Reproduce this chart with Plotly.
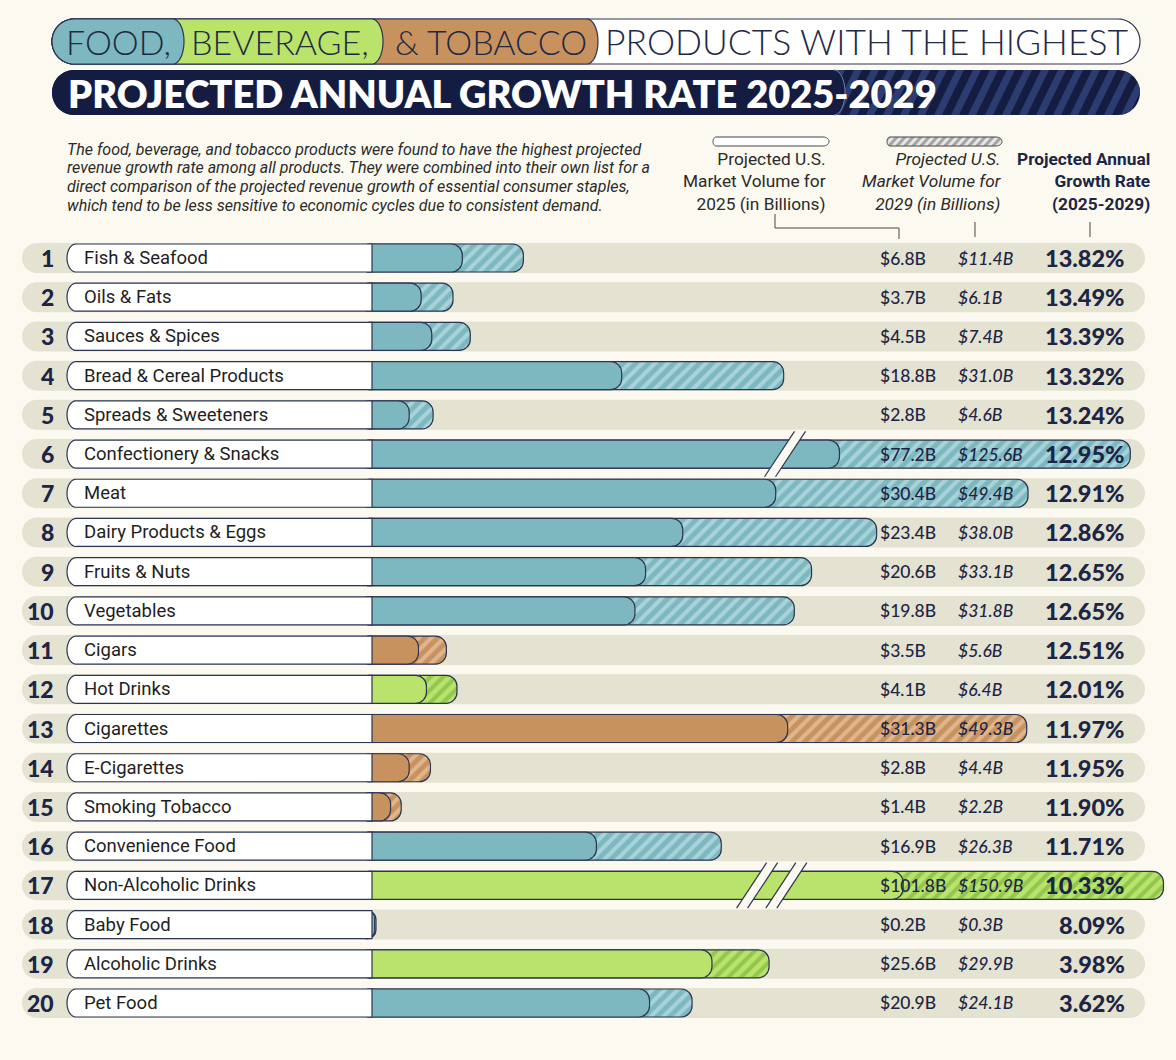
import math
import plotly.graph_objects as go

# ---------------- DATA ----------------
categories = ["Fish & Seafood", "Oils & Fats", "Sauces & Spices", "Bread & Cereal Products",
              "Spreads & Sweeteners", "Confectionery & Snacks", "Meat", "Dairy Products & Eggs",
              "Fruits & Nuts", "Vegetables", "Cigars", "Hot Drinks", "Cigarettes", "E-Cigarettes",
              "Smoking Tobacco", "Convenience Food", "Non-Alcoholic Drinks", "Baby Food",
              "Alcoholic Drinks", "Pet Food"]
groups = ["Food", "Food", "Food", "Food", "Food", "Food", "Food", "Food", "Food", "Food",
          "Tobacco", "Beverage", "Tobacco", "Tobacco", "Tobacco", "Food", "Beverage", "Food",
          "Beverage", "Food"]
volume_2025 = [6.8, 3.7, 4.5, 18.8, 2.8, 77.2, 30.4, 23.4, 20.6, 19.8,
               3.5, 4.1, 31.3, 2.8, 1.4, 16.9, 101.8, 0.2, 25.6, 20.9]
volume_2029 = [11.4, 6.1, 7.4, 31.0, 4.6, 125.6, 49.4, 38.0, 33.1, 31.8,
               5.6, 6.4, 49.3, 4.4, 2.2, 26.3, 150.9, 0.3, 29.9, 24.1]
growth_rate = [13.82, 13.49, 13.39, 13.32, 13.24, 12.95, 12.91, 12.86, 12.65, 12.65,
               12.51, 12.01, 11.97, 11.95, 11.90, 11.71, 10.33, 8.09, 3.98, 3.62]
ranks = list(range(1, len(categories) + 1))

# broken-axis rows: shown lengths (billions on the drawn scale) and break positions
broken_shown = {"Confectionery & Snacks": (35.2, 57.1), "Non-Alcoholic Drinks": (40.0, 59.6)}
break_marks = {"Confectionery & Snacks": [31.1], "Non-Alcoholic Drinks": [29.0, 31.2]}

# ---------------- STYLE ----------------
W, H = 1176, 1060
BG = "#fcfaf0"
TRACK = "#e4e2d0"
NAVY = "#141c42"
INK = "#1d2546"
EDGE = "#2d3552"
COL = {"Food": ("#7db8c0", "#a8d3d8"),
       "Beverage": ("#b9e36b", "#92c64e"),
       "Tobacco": ("#c8925f", "#e0b68e")}
FONT = "Lato, Roboto, sans-serif"

SCALE = 13.28      # px per billion
X0 = 372           # pixel of zero
ROW0 = 258         # pixel of row 1 centre
ROWD = 39.21       # px between rows
xr = [-X0 / SCALE, (W - X0) / SCALE]
yr = [1 + (H - ROW0) / ROWD, 1 - ROW0 / ROWD]
BAR_T = 28 / ROWD
OFFSET = 1.0       # bar start hidden under label pill


def px(x):
    return x / W


def py(y):
    return 1 - y / H


def row_px(r):
    return ROW0 + (r - 1) * ROWD


def stadium(x0, x1, y0, y1, rl, rr, n=24):
    cy = (y0 + y1) / 2
    ry = (y1 - y0) / 2
    pts = []
    for i in range(n + 1):
        t = -math.pi / 2 + math.pi * i / n
        pts.append((x1 - rr + rr * math.cos(t), cy + ry * math.sin(t)))
    for i in range(n + 1):
        t = math.pi / 2 + math.pi * i / n
        pts.append((x0 + rl + rl * math.cos(t), cy + ry * math.sin(t)))
    return pts


def to_path(pts, close=True):
    s = "M" + " L".join(f"{px(a):.5f},{py(b):.5f}" for a, b in pts)
    return s + (" Z" if close else "")


def clip(subject, clipper):
    a2 = 0
    for i in range(len(clipper)):
        x1, y1 = clipper[i]
        x2, y2 = clipper[(i + 1) % len(clipper)]
        a2 += x1 * y2 - x2 * y1
    sign = 1 if a2 > 0 else -1

    def inside(p, a, b):
        return sign * ((b[0] - a[0]) * (p[1] - a[1]) - (b[1] - a[1]) * (p[0] - a[0])) >= -1e-9

    def inter(p, q, a, b):
        x1, y1 = p; x2, y2 = q; x3, y3 = a; x4, y4 = b
        den = (x1 - x2) * (y3 - y4) - (y1 - y2) * (x3 - x4)
        if abs(den) < 1e-12:
            return q
        t = ((x1 - x3) * (y3 - y4) - (y1 - y3) * (x3 - x4)) / den
        return (x1 + t * (x2 - x1), y1 + t * (y2 - y1))

    out = subject
    for i in range(len(clipper)):
        a = clipper[i]
        b = clipper[(i + 1) % len(clipper)]
        if abs(a[0] - b[0]) < 1e-9 and abs(a[1] - b[1]) < 1e-9:
            continue
        inp = out
        out = []
        if not inp:
            break
        s = inp[-1]
        for e in inp:
            if inside(e, a, b):
                if not inside(s, a, b):
                    out.append(inter(s, e, a, b))
                out.append(e)
            elif inside(s, a, b):
                out.append(inter(s, e, a, b))
            s = e
    return out


shapes = []


def add_poly(pts, fill, line=None, lw=1.2, layer="above", close=True):
    shapes.append(dict(type="path", path=to_path(pts, close), xref="paper", yref="paper",
                       fillcolor=fill, layer=layer,
                       line=dict(color=line if line else "rgba(0,0,0,0)", width=lw if line else 0)))


def hatch(x0, x1, y0, y1, rl, rr, fg, xa, period, sw, dx):
    outline = stadium(x0, x1, y0, y1, rl, rr)
    s = xa - dx - period
    while s < x1 + period:
        par = [(s, y1), (s + sw, y1), (s + sw + dx, y0), (s + dx, y0)]
        c = clip(par, outline)
        if len(c) >= 3:
            add_poly(c, fg)
        s += period


# ---------------- TITLE ----------------
add_poly(stadium(52, 1140, 19, 64, 22, 22), "#ffffff", EDGE, 1.2)
add_poly(stadium(52, 598, 19, 64, 22, 11), COL["Tobacco"][0], EDGE, 1.2)
add_poly(stadium(52, 383, 19, 64, 22, 11), COL["Beverage"][0], EDGE, 1.2)
add_poly(stadium(52, 184, 19, 64, 22, 11), COL["Food"][0], EDGE, 1.2)

add_poly(stadium(52, 1140, 70, 115, 22, 22), NAVY)
hatch(52, 1140, 70, 115, 22, 22, "#2c3c70", 820, 17, 8, 22)
add_poly(stadium(52, 845, 70, 115, 22, 11), NAVY)
cap = [p for p in stadium(52, 845, 70, 115, 22, 11)[:25]]
add_poly(cap, "rgba(0,0,0,0)", "#7b86a6", 1.0, close=False)

# legend icons
add_poly(stadium(713, 829, 137, 146, 3, 6), "#ffffff", "#444444", 1.0)
add_poly(stadium(887, 1002, 137, 146, 3, 6), "#e6e6e6")
hatch(887, 1002, 137, 146, 3, 6, "#a5a5a5", 887, 8, 4, 8)
add_poly(stadium(887, 1002, 137, 146, 3, 6), "rgba(0,0,0,0)", "#444444", 1.0)

# connectors
add_poly([(775, 214), (775, 228), (899, 228), (899, 239)], "rgba(0,0,0,0)", "#444444", 1.0, close=False)
add_poly([(975, 222), (975, 237)], "rgba(0,0,0,0)", "#444444", 1.0, close=False)
add_poly([(1090, 222), (1090, 237)], "rgba(0,0,0,0)", "#444444", 1.0, close=False)

# rows: tracks (below) and label pills (above)
for r in ranks:
    cy = row_px(r)
    add_poly(stadium(22, 1145, cy - 15, cy + 15, 15, 15), TRACK, layer="below")
    add_poly(stadium(67, X0, cy - 14, cy + 14, 9, 0), "#ffffff", EDGE, 1.2)

# break marks (data coords)
for cat, xs in break_marks.items():
    r = ranks[categories.index(cat)]
    h, dx, g = 0.58, 15 / SCALE, 5.5 / SCALE
    for xc in xs:
        p = [(xc - dx - g, r + h), (xc - dx + g, r + h), (xc + dx + g, r - h), (xc + dx - g, r - h)]
        shapes.append(dict(type="path", xref="x", yref="y", layer="above", fillcolor=BG,
                           line=dict(width=0, color="rgba(0,0,0,0)"),
                           path="M" + " L".join(f"{a:.4f},{b:.4f}" for a, b in p) + " Z"))
        for (a, b) in [(p[0], p[3]), (p[1], p[2])]:
            shapes.append(dict(type="line", xref="x", yref="y", layer="above",
                               x0=a[0], y0=a[1], x1=b[0], y1=b[1],
                               line=dict(color=EDGE, width=1.2)))

# ---------------- BARS ----------------
fig = go.Figure()


def shown(i, year_idx):
    c = categories[i]
    if c in broken_shown:
        return broken_shown[c][year_idx]
    return volume_2025[i] if year_idx == 0 else volume_2029[i]


for year_idx in (1, 0):
    for grp in ("Food", "Beverage", "Tobacco"):
        idx = [i for i in range(len(categories)) if groups[i] == grp]
        base_c, fg_c = COL[grp]
        marker = dict(color=base_c, line=dict(color=EDGE, width=1.2), cornerradius=11)
        if year_idx == 1:
            marker["pattern"] = dict(shape="/", bgcolor=base_c, fgcolor=fg_c, size=9,
                                     solidity=0.45, fillmode="replace")
        fig.add_trace(go.Bar(
            orientation="h",
            y=[ranks[i] for i in idx],
            x=[shown(i, year_idx) + OFFSET for i in idx],
            base=-OFFSET,
            width=BAR_T,
            marker=marker,
            hoverinfo="skip",
            showlegend=False,
        ))

# ---------------- TEXT ----------------
ann = []


def txt(x, y, s, size, color=INK, family=FONT, weight="normal", style="normal",
        xanchor="left", xref="paper", yref="paper", align="left"):
    ann.append(dict(x=x, y=y, xref=xref, yref=yref, text=s, showarrow=False,
                    xanchor=xanchor, yanchor="middle", align=align,
                    font=dict(size=size, color=color, family=family, weight=weight, style=style)))


TITLE_THIN = "Lato, sans-serif"
txt(px(64), py(42), "FOOD,", 34, "#1f2a44", TITLE_THIN, weight=300)
txt(px(189), py(42), "BEVERAGE,", 34, "#1f2a44", TITLE_THIN, weight=300)
txt(px(393), py(42), "& TOBACCO", 34, "#1f2a44", TITLE_THIN, weight=300)
txt(px(603), py(42), "PRODUCTS WITH THE HIGHEST", 35.5, "#1f2a44", TITLE_THIN, weight=300)
txt(px(66), py(93), "PROJECTED ANNUAL GROWTH RATE 2025-2029", 38, "#ffffff", TITLE_THIN, weight=800)

desc = ["The food, beverage, and tobacco products were found to have the highest projected",
        "revenue growth rate among all products. They were combined into their own list for a",
        "direct comparison of the projected revenue growth of essential consumer staples,",
        "which tend to be less sensitive to economic cycles due to consistent demand."]
for k, line in enumerate(desc):
    txt(px(65), py(149 + k * 18.8), line, 16, "#2a2a2a", "Roboto, sans-serif", style="italic")

txt(px(828), py(181), "Projected U.S.<br>Market Volume for<br>2025 (in Billions)", 17.3, "#2a2a2a",
    "Roboto, sans-serif", xanchor="right", align="right")
txt(px(1004), py(181), "Projected U.S.<br>Market Volume for<br>2029 (in Billions)", 17.3, "#2a2a2a",
    "Roboto, sans-serif", style="italic", xanchor="right", align="right")
txt(px(1152), py(181), "Projected Annual<br>Growth Rate<br>(2025-2029)", 17.3, INK,
    "Roboto, sans-serif", weight="bold", xanchor="right", align="right")

for i, r in enumerate(ranks):
    txt(px(56), r, str(r), 23, INK, FONT, weight=900, xanchor="right", yref="y")
    txt(px(82), r, categories[i], 18.5, "#1e1e1e", "Roboto, sans-serif", yref="y")
    txt(px(878), r, f"${volume_2025[i]:.1f}B", 17.5, INK, FONT, weight=500, yref="y")
    txt(px(956), r, f"${volume_2029[i]:.1f}B", 17.5, INK, FONT, weight=500, style="italic", yref="y")
    txt(px(1127), r, f"{growth_rate[i]:.2f}%", 23.5, INK, FONT, weight=900, xanchor="right", yref="y")

fig.update_layout(
    width=W, height=H,
    margin=dict(l=0, r=0, t=0, b=0),
    paper_bgcolor=BG, plot_bgcolor="rgba(0,0,0,0)",
    barmode="overlay", showlegend=False, hovermode=False,
    xaxis=dict(range=xr, visible=False, fixedrange=True, domain=[0, 1]),
    yaxis=dict(range=yr, visible=False, fixedrange=True, domain=[0, 1]),
    shapes=shapes, annotations=ann,
)

fig.write_html("out.html", config={"displayModeBar": False},
               post_script="document.body.style.margin='0px';document.body.style.overflow='hidden';")
